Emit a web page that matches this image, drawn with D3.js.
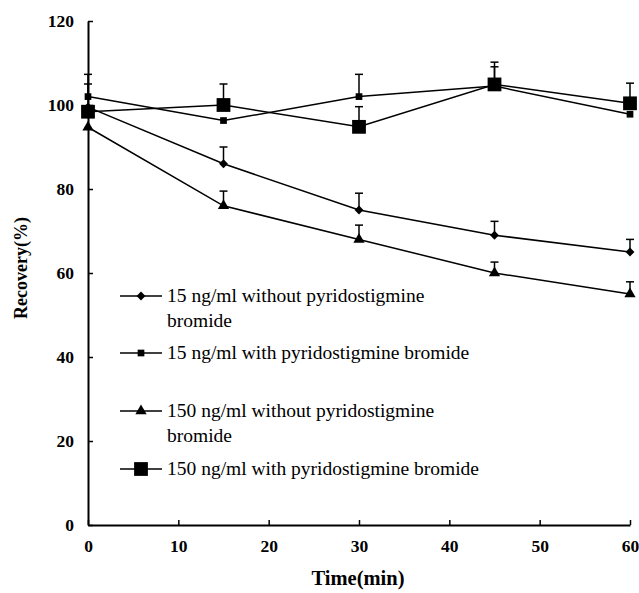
<!DOCTYPE html>
<html>
<head>
<meta charset="utf-8">
<script src="https://cdn.jsdelivr.net/npm/d3@7"></script>
<style>
  body { margin: 0; background: #fff; }
  svg text { font-family: "Liberation Serif", "Times New Roman", serif; fill: #000; }
</style>
</head>
<body>
<svg id="chart" width="639" height="593"></svg>
<script>
const times = [0, 15, 30, 45, 60]
const xTicks = [0, 10, 20, 30, 40, 50, 60]
const yTicks = [0, 20, 40, 60, 80, 100, 120]

// recovery (%) and upper error (SD) per series
const low_without = [99.5, 86, 75, 69, 65]
const low_without_err = [0, 4, 4, 3.3, 3]
const low_with = [102, 96.3, 102, 104.5, 97.8]
const low_with_err = [5.3, 0, 5.3, 5.7, 0]
const high_without = [94.7, 76, 68, 60, 55]
const high_without_err = [0, 3.5, 3.4, 2.6, 2.9]
const high_with = [98.4, 100, 94.8, 104.9, 100.4]
const high_with_err = [6.6, 5, 4.8, 4.2, 4.8]

const seriesNames = [
    ["15 ng/ml without pyridostigmine", "bromide"],
    ["15 ng/ml with pyridostigmine bromide"],
    ["150 ng/ml without pyridostigmine", "bromide"],
    ["150 ng/ml with pyridostigmine bromide"]
]

const series = [
    {values: low_without, err: low_without_err, symbol: d3.symbolDiamond2, size: 50, legendY: 296},
    {values: low_with, err: low_with_err, symbol: d3.symbolSquare, size: 45, legendY: 353},
    {values: high_without, err: high_without_err, symbol: d3.symbolTriangle, size: 55, legendY: 411},
    {values: high_with, err: high_with_err, symbol: d3.symbolSquare, size: 190, legendY: 469}
]

const svg = d3.select("#chart")
const x = d3.scaleLinear().domain([0, 60]).range([88, 630])
const y = d3.scaleLinear().domain([0, 120]).range([525, 21])

// axes, ticks point inward
const yAxis = svg.append("g")
    .attr("transform", `translate(${x(0)},0)`)
    .call(d3.axisLeft(y).tickValues(yTicks).tickSizeInner(-5).tickSizeOuter(0).tickPadding(14))
yAxis.attr("font-family", null)
yAxis.select(".domain").attr("stroke-width", 2)
yAxis.selectAll("line").attr("stroke-width", 1.5)
yAxis.selectAll("text").attr("font-size", 17.5).attr("font-weight", "bold")

const xAxis = svg.append("g")
    .attr("transform", `translate(0,${y(0)})`)
    .call(d3.axisBottom(x).tickValues(xTicks).tickSizeInner(-5).tickSizeOuter(0).tickPadding(15))
xAxis.attr("font-family", null)
xAxis.select(".domain").attr("stroke-width", 2)
xAxis.selectAll("line").attr("stroke-width", 1.5)
xAxis.selectAll("text").attr("font-size", 17.5).attr("font-weight", "bold")

svg.append("text")
    .attr("x", 358).attr("y", 585)
    .attr("text-anchor", "middle")
    .attr("font-size", 20.5).attr("font-weight", "bold")
    .text("Time(min)")

svg.append("text")
    .attr("transform", "translate(27,268) rotate(-90)")
    .attr("text-anchor", "middle")
    .attr("font-size", 18).attr("font-weight", "bold")
    .text("Recovery(%)")

const line = d3.line().x((d, i) => x(times[i])).y(d => y(d))

series.forEach(s => {
    const g = svg.append("g")
    g.append("path")
        .attr("d", line(s.values))
        .attr("fill", "none")
        .attr("stroke", "#000")
        .attr("stroke-width", 1.5)
    // upper error bars only
    s.values.forEach((v, i) => {
        if (!s.err[i]) return
        const cx = x(times[i])
        g.append("line")
            .attr("x1", cx).attr("x2", cx)
            .attr("y1", y(v)).attr("y2", y(v + s.err[i]))
            .attr("stroke", "#000").attr("stroke-width", 1.5)
        g.append("line")
            .attr("x1", cx - 4).attr("x2", cx + 4)
            .attr("y1", y(v + s.err[i])).attr("y2", y(v + s.err[i]))
            .attr("stroke", "#000").attr("stroke-width", 1.5)
    })
    g.selectAll("path.pt")
        .data(s.values)
        .join("path")
        .attr("class", "pt")
        .attr("transform", (d, i) => `translate(${x(times[i])},${y(d)})`)
        .attr("d", d3.symbol(s.symbol, s.size))
        .attr("fill", "#000")
})

// legend
const legend = svg.append("g")
series.forEach((s, k) => {
    legend.append("line")
        .attr("x1", 120).attr("x2", 162)
        .attr("y1", s.legendY).attr("y2", s.legendY)
        .attr("stroke", "#000").attr("stroke-width", 1.5)
    legend.append("path")
        .attr("transform", `translate(141,${s.legendY})`)
        .attr("d", d3.symbol(s.symbol, s.size))
        .attr("fill", "#000")
    const t = legend.append("text")
        .attr("x", 167).attr("y", s.legendY + 6)
        .attr("font-size", 19.5)
    t.selectAll("tspan")
        .data(seriesNames[k])
        .join("tspan")
        .attr("x", 167)
        .attr("dy", (d, i) => i ? 25 : 0)
        .text(d => d)
})
</script>
</body>
</html>
